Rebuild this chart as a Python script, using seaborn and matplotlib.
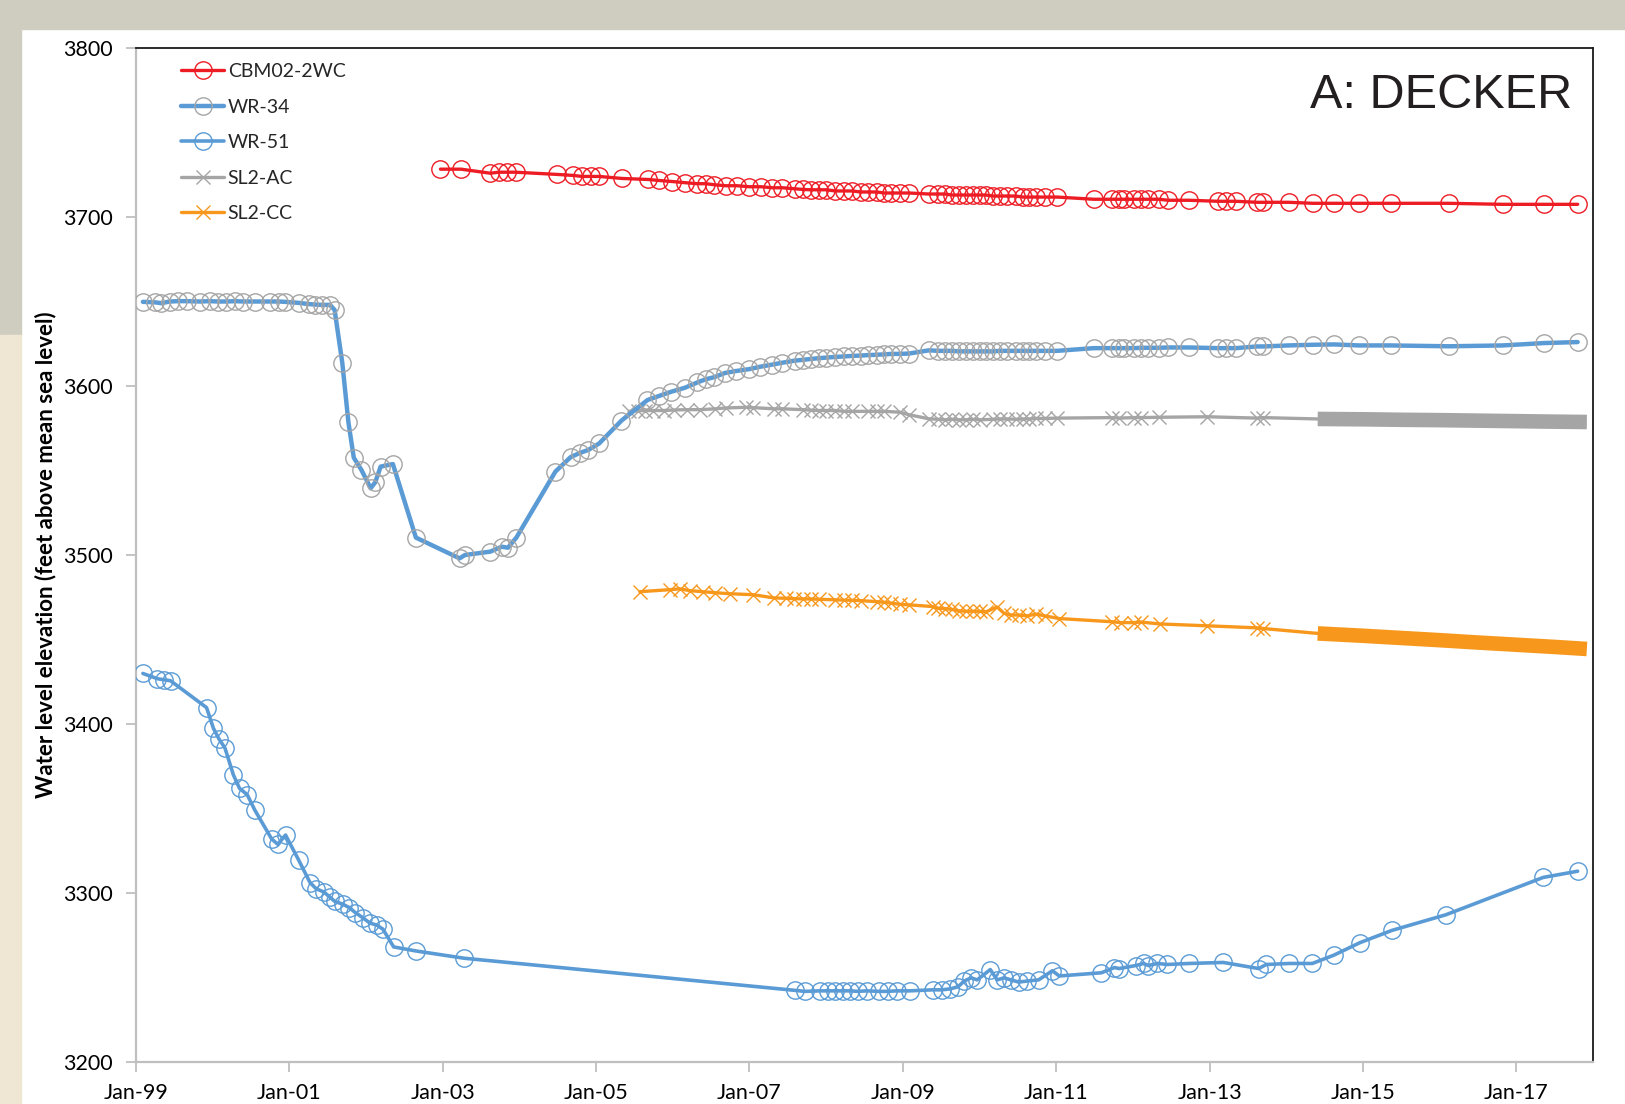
import numpy as np
import pandas as pd
import matplotlib.pyplot as plt
import seaborn as sns
from matplotlib.patches import Rectangle

# Water level data (decimal years, ft amsl)
cbm_year = [2002.97, 2003.24, 2003.62, 2003.73, 2003.84, 2003.95, 2004.49, 2004.70, 2004.82, 2004.93,
            2005.04, 2005.34, 2005.68, 2005.82, 2005.99, 2006.16, 2006.32, 2006.43, 2006.54, 2006.69,
            2006.84, 2007.00, 2007.15, 2007.30, 2007.43, 2007.59, 2007.70, 2007.80, 2007.91, 2008.00,
            2008.12, 2008.23, 2008.34, 2008.45, 2008.55, 2008.66, 2008.76, 2008.85, 2008.96, 2009.08,
            2009.34, 2009.46, 2009.55, 2009.64, 2009.73, 2009.82, 2009.91, 2010.00, 2010.08, 2010.18,
            2010.27, 2010.36, 2010.47, 2010.57, 2010.65, 2010.74, 2010.85, 2011.01, 2011.49, 2011.73,
            2011.82, 2011.89, 2012.01, 2012.11, 2012.20, 2012.34, 2012.46, 2012.73, 2013.11, 2013.22,
            2013.34, 2013.62, 2013.70, 2014.03, 2014.35, 2014.62, 2014.95, 2015.36, 2016.12, 2016.82,
            2017.36, 2017.80]
cbm_level = [3728.3, 3728.3, 3725.9, 3726.5, 3726.5, 3726.5, 3725.2, 3724.6, 3724.0, 3724.0,
             3724.0, 3722.8, 3722.2, 3721.6, 3721.0, 3720.3, 3719.7, 3719.7, 3719.1, 3718.5,
             3718.5, 3717.9, 3717.9, 3717.3, 3717.3, 3716.7, 3716.3, 3716.1, 3716.1, 3716.1,
             3715.4, 3715.4, 3715.4, 3714.8, 3714.8, 3714.8, 3714.2, 3714.2, 3714.2, 3714.2,
             3713.6, 3713.6, 3713.6, 3713.0, 3713.0, 3713.0, 3713.0, 3713.0, 3713.0, 3712.4,
             3712.4, 3712.4, 3712.4, 3711.8, 3711.8, 3711.8, 3711.8, 3711.8, 3710.5, 3710.5,
             3710.5, 3710.5, 3710.5, 3710.5, 3710.5, 3710.5, 3709.9, 3709.9, 3709.3, 3709.3,
             3709.3, 3708.7, 3708.7, 3708.7, 3708.1, 3708.1, 3708.1, 3708.1, 3708.1, 3707.5,
             3707.5, 3707.5]

wr34_year = [1999.09, 1999.25, 1999.33, 1999.44, 1999.55, 1999.66, 1999.83, 1999.96, 2000.07, 2000.18,
             2000.29, 2000.40, 2000.55, 2000.75, 2000.86, 2000.94, 2001.12, 2001.25, 2001.33, 2001.42,
             2001.53, 2001.59, 2001.69, 2001.77, 2001.84, 2001.94, 2002.06, 2002.12, 2002.19, 2002.35,
             2002.65, 2003.22, 2003.29, 2003.62, 2003.77, 2003.85, 2003.96, 2004.47, 2004.67, 2004.79,
             2004.90, 2005.04, 2005.33, 2005.67, 2005.82, 2005.98, 2006.16, 2006.32, 2006.43, 2006.54,
             2006.68, 2006.83, 2007.00, 2007.14, 2007.29, 2007.43, 2007.59, 2007.70, 2007.80, 2007.91,
             2008.00, 2008.12, 2008.23, 2008.34, 2008.45, 2008.55, 2008.66, 2008.76, 2008.85, 2008.96,
             2009.08, 2009.34, 2009.46, 2009.55, 2009.64, 2009.73, 2009.82, 2009.91, 2010.00, 2010.08,
             2010.18, 2010.27, 2010.36, 2010.47, 2010.57, 2010.65, 2010.74, 2010.85, 2011.01, 2011.49,
             2011.73, 2011.82, 2011.89, 2012.01, 2012.11, 2012.20, 2012.34, 2012.46, 2012.73, 2013.11,
             2013.22, 2013.34, 2013.62, 2013.70, 2014.03, 2014.35, 2014.62, 2014.95, 2015.36, 2016.12,
             2016.82, 2017.36, 2017.80]
wr34_level = [3649.8, 3649.5, 3649.0, 3650.0, 3650.2, 3650.2, 3650.0, 3650.2, 3650.0, 3650.0,
              3650.2, 3650.0, 3650.0, 3650.0, 3650.0, 3649.8, 3649.2, 3648.5, 3648.2, 3648.0,
              3648.0, 3645.0, 3613.8, 3578.5, 3557.6, 3550.3, 3539.5, 3543.0, 3552.3, 3553.8,
              3510.3, 3498.0, 3500.0, 3502.0, 3504.9, 3504.3, 3510.3, 3549.4, 3558.0, 3560.4,
              3562.2, 3566.0, 3579.5, 3591.7, 3594.1, 3596.6, 3599.0, 3602.1, 3604.0, 3605.2,
              3607.7, 3608.9, 3610.0, 3611.4, 3612.6, 3613.8, 3615.0, 3615.5, 3616.0, 3616.5,
              3616.8, 3617.2, 3617.5, 3617.8, 3618.0, 3618.3, 3618.5, 3618.7, 3619.0, 3619.0,
              3619.2, 3621.1, 3620.8, 3620.8, 3620.8, 3620.5, 3620.5, 3620.5, 3620.5, 3620.5,
              3620.5, 3620.8, 3620.8, 3620.8, 3620.8, 3620.8, 3620.8, 3620.8, 3620.8, 3622.4,
              3622.4, 3622.4, 3622.4, 3622.4, 3622.6, 3622.6, 3622.6, 3622.8, 3622.8, 3622.4,
              3622.4, 3622.4, 3623.4, 3623.4, 3624.0, 3624.4, 3624.6, 3624.0, 3624.0, 3623.5,
              3624.0, 3625.4, 3626.0]

wr51_year = [1999.09, 1999.28, 1999.36, 1999.45, 1999.92, 2000.01, 2000.08, 2000.16, 2000.27, 2000.35,
             2000.45, 2000.55, 2000.77, 2000.85, 2000.95, 2001.12, 2001.27, 2001.35, 2001.45, 2001.53,
             2001.59, 2001.70, 2001.78, 2001.86, 2001.96, 2002.05, 2002.14, 2002.22, 2002.36, 2002.65,
             2003.28, 2007.59, 2007.72, 2007.92, 2008.03, 2008.12, 2008.22, 2008.31, 2008.41, 2008.53,
             2008.69, 2008.80, 2008.92, 2009.09, 2009.39, 2009.51, 2009.62, 2009.72, 2009.80, 2009.89,
             2009.97, 2010.14, 2010.23, 2010.32, 2010.41, 2010.51, 2010.62, 2010.77, 2010.95, 2011.04,
             2011.59, 2011.76, 2011.82, 2012.04, 2012.14, 2012.20, 2012.32, 2012.45, 2012.73, 2013.18,
             2013.64, 2013.74, 2014.04, 2014.34, 2014.62, 2014.96, 2015.38, 2016.08, 2017.35, 2017.80]
wr51_level = [3429.9, 3426.8, 3426.2, 3425.6, 3409.7, 3397.4, 3391.3, 3385.8, 3369.9, 3361.9,
              3358.2, 3349.0, 3331.9, 3328.8, 3334.3, 3319.6, 3306.1, 3302.5, 3300.6, 3297.5,
              3295.1, 3293.3, 3291.4, 3288.4, 3285.3, 3282.2, 3281.0, 3278.6, 3268.1, 3265.7,
              3261.4, 3242.4, 3241.8, 3242.1, 3242.1, 3242.1, 3242.1, 3242.1, 3241.8, 3242.1,
              3241.8, 3241.8, 3242.1, 3242.1, 3242.7, 3242.7, 3243.3, 3244.5, 3247.9, 3249.8,
              3248.6, 3254.7, 3248.6, 3249.8, 3248.6, 3247.3, 3247.9, 3248.6, 3254.0, 3250.9,
              3252.8, 3255.9, 3255.3, 3257.1, 3258.3, 3257.1, 3258.3, 3257.7, 3258.3, 3258.9,
              3255.3, 3257.7, 3258.3, 3258.3, 3263.2, 3270.6, 3277.9, 3287.1, 3309.2, 3312.9]

ac_year = [2005.43, 2005.54, 2005.64, 2005.74, 2005.88, 2006.01, 2006.18, 2006.36, 2006.55, 2006.69,
           2006.95, 2007.05, 2007.32, 2007.43, 2007.70, 2007.80, 2007.91, 2008.00, 2008.12, 2008.23,
           2008.34, 2008.55, 2008.66, 2008.76, 2008.96, 2009.08, 2009.34, 2009.46, 2009.55, 2009.64,
           2009.73, 2009.82, 2009.91, 2010.00, 2010.18, 2010.27, 2010.36, 2010.47, 2010.57, 2010.65,
           2010.74, 2010.85, 2011.01, 2011.73, 2011.82, 2012.01, 2012.11, 2012.34, 2012.97, 2013.62,
           2013.70]
ac_level = [3585.0, 3585.3, 3585.5, 3585.5, 3585.5, 3585.8, 3586.0, 3586.0, 3586.5, 3587.0,
            3587.4, 3587.2, 3586.5, 3586.5, 3586.0, 3585.7, 3585.5, 3585.5, 3585.5, 3585.0,
            3585.0, 3585.0, 3585.0, 3585.0, 3584.5, 3583.0, 3580.6, 3580.3, 3580.0, 3580.3,
            3580.0, 3580.0, 3580.3, 3580.0, 3580.3, 3580.5, 3580.5, 3580.3, 3580.5, 3580.5,
            3580.8, 3580.8, 3581.0, 3581.3, 3581.0, 3581.3, 3581.3, 3581.5, 3581.8, 3581.0,
            3581.3]
# continuous transducer record (dense, drawn as a solid band)
ac_logger_year = [2013.70, 2014.41, 2015.0, 2015.5, 2016.0, 2016.5, 2017.0, 2017.5, 2017.92]
ac_logger_level = [3581.3, 3580.5, 3580.3, 3580.0, 3579.8, 3579.5, 3579.2, 3578.9, 3578.7]

cc_year = [2005.57, 2005.97, 2006.09, 2006.22, 2006.39, 2006.55, 2006.74, 2007.05, 2007.32, 2007.47,
           2007.58, 2007.70, 2007.80, 2007.91, 2008.12, 2008.23, 2008.34, 2008.45, 2008.66, 2008.76,
           2008.85, 2008.96, 2009.08, 2009.39, 2009.46, 2009.55, 2009.64, 2009.73, 2009.82, 2009.91,
           2010.00, 2010.08, 2010.23, 2010.32, 2010.41, 2010.51, 2010.62, 2010.74, 2010.85, 2011.04,
           2011.73, 2011.84, 2012.01, 2012.11, 2012.35, 2012.97, 2013.62, 2013.70]
cc_level = [3478.3, 3479.5, 3480.0, 3478.9, 3478.3, 3477.7, 3477.1, 3476.5, 3474.6, 3474.4,
            3474.2, 3474.0, 3474.0, 3473.8, 3473.5, 3473.3, 3473.2, 3473.0, 3472.4, 3472.0,
            3471.5, 3470.8, 3470.5, 3469.5, 3468.5, 3468.3, 3467.8, 3467.0, 3466.7, 3466.7,
            3466.7, 3466.3, 3469.2, 3465.5, 3464.5, 3464.5, 3464.0, 3465.0, 3464.0, 3462.4,
            3460.5, 3460.0, 3460.0, 3460.3, 3459.2, 3458.1, 3456.9, 3456.5]
cc_logger_year = [2013.70, 2014.41, 2015.0, 2015.5, 2016.0, 2016.5, 2017.0, 2017.5, 2017.92]
cc_logger_level = [3456.5, 3453.6, 3452.2, 3450.9, 3449.6, 3448.2, 3446.9, 3445.6, 3444.4]

tick_years = [1999, 2001, 2003, 2005, 2007, 2009, 2011, 2013, 2015, 2017]
tick_labels = ["Jan-99", "Jan-01", "Jan-03", "Jan-05", "Jan-07",
               "Jan-09", "Jan-11", "Jan-13", "Jan-15", "Jan-17"]

RED = "#ED1C24"
BLUE = "#5B9BD5"
GRAY = "#A5A5A5"
ORANGE = "#F7981D"

sns.set_theme(style="white")
plt.rcParams["font.family"] = ["Lato", "DejaVu Sans"]

W, H = 1625, 1104
fig = plt.figure(figsize=(W / 100, H / 100), dpi=100, facecolor="white")

# slide background strips
fig.patches.append(Rectangle((0, 1 - 29 / H), 1, 29 / H, transform=fig.transFigure,
                             color="#CFCCC0", zorder=0))
fig.patches.append(Rectangle((0, 1 - 335 / H), 21 / W, 306 / H, transform=fig.transFigure,
                             color="#CFCCC0", zorder=0))
fig.patches.append(Rectangle((0, 0), 21 / W, 1 - 335 / H, transform=fig.transFigure,
                             color="#EFE6D4", zorder=0))

ax = fig.add_axes([136 / W, 42 / H, (1593 - 136) / W, (1062 - 48) / H])

common = dict(ax=ax, sort=False, estimator=None)

sns.lineplot(x=cbm_year, y=cbm_level, color=RED, linewidth=2.4, marker="o", markersize=12.5,
             markerfacecolor="none", markeredgecolor=RED, markeredgewidth=1.0,
             label="CBM02-2WC", zorder=5, **common)
sns.lineplot(x=wr34_year, y=wr34_level, color=BLUE, linewidth=3.2, marker="o", markersize=12.5,
             markerfacecolor="none", markeredgecolor=GRAY, markeredgewidth=1.0,
             label="WR-34", zorder=4, **common)
sns.lineplot(x=wr51_year, y=wr51_level, color=BLUE, linewidth=2.6, marker="o", markersize=12.5,
             markerfacecolor="none", markeredgecolor=BLUE, markeredgewidth=1.0,
             label="WR-51", zorder=4, **common)
sns.lineplot(x=ac_year, y=ac_level, color=GRAY, linewidth=2.4, marker="x", markersize=10,
             markeredgecolor=GRAY, markeredgewidth=1.0, label="SL2-AC", zorder=3, **common)
sns.lineplot(x=cc_year, y=cc_level, color=ORANGE, linewidth=2.4, marker="x", markersize=10,
             markeredgecolor=ORANGE, markeredgewidth=1.0, label="SL2-CC", zorder=3, **common)
# dense logger records
sns.lineplot(x=ac_logger_year[:2], y=ac_logger_level[:2], color=GRAY, linewidth=2.4,
             label="_nolegend_", zorder=3, **common)
sns.lineplot(x=ac_logger_year[1:], y=ac_logger_level[1:], color=GRAY, linewidth=10.5,
             solid_capstyle="butt", label="_nolegend_", zorder=3, **common)
sns.lineplot(x=cc_logger_year[:2], y=cc_logger_level[:2], color=ORANGE, linewidth=2.4,
             label="_nolegend_", zorder=3, **common)
sns.lineplot(x=cc_logger_year[1:], y=cc_logger_level[1:], color=ORANGE, linewidth=10.5,
             solid_capstyle="butt", label="_nolegend_", zorder=3, **common)

ax.set_xlim(1999, 2018)
ax.set_ylim(3200, 3800)
ax.set_xticks(tick_years)
ax.set_xticklabels(tick_labels)
ax.set_yticks(np.arange(3200, 3801, 100))

for side in ["left", "bottom"]:
    ax.spines[side].set_color("#BFBFBF")
    ax.spines[side].set_linewidth(1.6)
for side in ["top", "right"]:
    ax.spines[side].set_color("#1A1A1A")
    ax.spines[side].set_linewidth(1.3)

ax.tick_params(axis="both", which="major", direction="out", length=7, width=1.3,
               color="#BFBFBF", labelsize=15.5, labelcolor="black")
ax.tick_params(axis="y", pad=10, left=True)
ax.tick_params(axis="x", pad=8, bottom=True)

ax.set_xlabel("")
ax.set_ylabel("Water level elevation (feet above mean sea level)", fontsize=16,
              fontweight="bold", color="black")
ax.yaxis.set_label_coords(-0.055, 0.5)

ax.text(0.9856, 0.9408, "A: DECKER", transform=ax.transAxes, ha="right", va="baseline",
        fontsize=35, family=["Liberation Sans", "DejaVu Sans"], color="#231F20")

ax.legend(loc="upper left", bbox_to_anchor=(0.031, 0.985), frameon=False, fontsize=14,
          handlelength=2.2, handletextpad=0.2, labelspacing=0.95, borderaxespad=0,
          borderpad=0, numpoints=1)

fig.savefig("out.png", dpi=100, facecolor=fig.get_facecolor())
